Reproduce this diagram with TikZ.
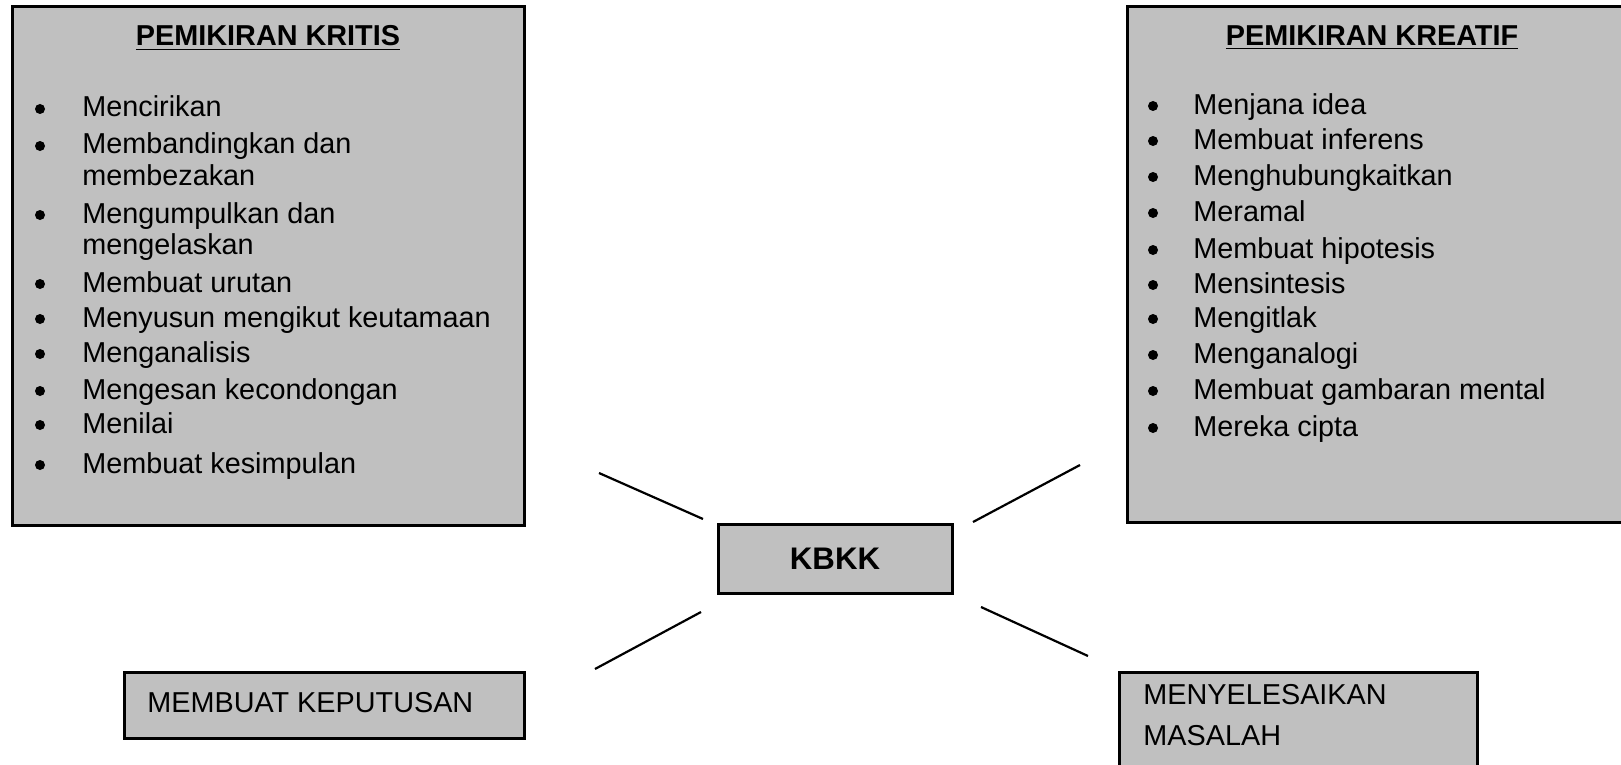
\documentclass[tikz,border=0pt]{standalone}
\usepackage{fontspec}
\setmainfont{Liberation Sans}
\usepackage{xcolor}
\usetikzlibrary{fit,positioning}

\definecolor{boxgray}{RGB}{192,192,192}

\tikzset{
    box/.style={draw=black, line width=1.5pt, fill=boxgray, inner sep=0pt},
    link/.style={line width=1.1pt},
    item/.style={anchor=base west, inner sep=0pt, font=\fontsize{14.4}{17}\selectfont},
    dot/.style={circle, fill=black, inner sep=0pt, minimum size=5pt},
    heading/.style={anchor=base, inner sep=0pt, font=\fontsize{14.4}{17}\selectfont\bfseries},
}

\begin{document}
\begin{tikzpicture}[x=0.5pt, y=-0.5pt]

    \useasboundingbox (0,0) rectangle (1621,765);

    %boxes
    \node[box, fit={(12,7) (524,525)}] (kritis) {};
    \node[box, fit={(1127,7) (1650,522)}] (kreatif) {};
    \node[box, fit={(718,524) (952,593)}] (kbkk) {};
    \node[box, fit={(124,672) (524,738)}] (keputusan) {};
    \node[box, fit={(1119,672) (1477,790)}] (masalah) {};

    %headings
    \node[heading] (kritis-title) at (268,46) {\underline{PEMIKIRAN KRITIS}};
    \node[heading] (kreatif-title) at (1372,46) {\underline{PEMIKIRAN KREATIF}};
    \node[font=\fontsize{15.6}{18}\selectfont\bfseries, inner sep=0pt] (kbkk-text) at (kbkk.center) {KBKK};

    %critical thinking list
    \foreach \y/\b/\txt [count=\i] in {117/1/Mencirikan, 154/1/Membandingkan dan, 185/0/membezakan,
        223/1/Mengumpulkan dan, 254/0/mengelaskan, 292/1/Membuat urutan,
        327/1/Menyusun mengikut keutamaan, 362/1/Menganalisis, 399/1/Mengesan kecondongan,
        433/1/Menilai, 473/1/Membuat kesimpulan}
    {
        \node[item] (kritis-\i) at (82,\y) {\txt};
        \ifnum\b=1 \node[dot] (kritis-dot-\i) at (40,\y-8) {}; \fi
    }

    %creative thinking list
    \foreach \y/\txt [count=\i] in {114/Menjana idea, 149/Membuat inferens, 185/Menghubungkaitkan,
        221/Meramal, 258/Membuat hipotesis, 293/Mensintesis, 327/Mengitlak,
        363/Menganalogi, 399/Membuat gambaran mental, 436/Mereka cipta}
        \node[item] (kreatif-\i) at (1193,\y) {\txt} node[dot] (kreatif-dot-\i) at (1153,\y-8) {};

    %lower boxes
    \node[item] (keputusan-text) at (147,712) {MEMBUAT KEPUTUSAN};
    \node[item] (masalah-text-1) at (1143,704) {MENYELESAIKAN};
    \node[item] (masalah-text-2) at (1143,745) {MASALAH};

    %connectors
    \coordinate (kbkk-nw) at (703,519);
    \coordinate (kritis-se) at (599,473);
    \coordinate (kbkk-ne) at (973,522);
    \coordinate (kreatif-sw) at (1080,465);
    \coordinate (kbkk-sw) at (701,612);
    \coordinate (keputusan-ne) at (595,669);
    \coordinate (kbkk-se) at (981,607);
    \coordinate (masalah-nw) at (1088,656);

    \draw[link] (kbkk-nw) -- (kritis-se);
    \draw[link] (kbkk-ne) -- (kreatif-sw);
    \draw[link] (kbkk-sw) -- (keputusan-ne);
    \draw[link] (kbkk-se) -- (masalah-nw);

\end{tikzpicture}
\end{document}
